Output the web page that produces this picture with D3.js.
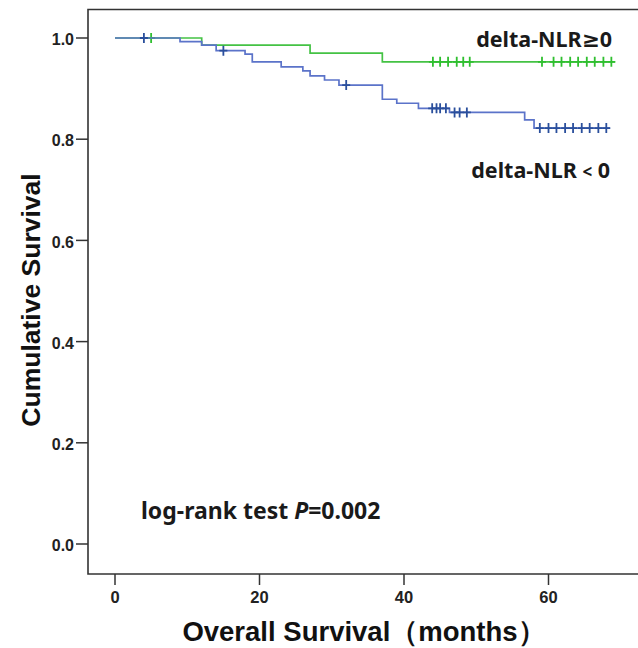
<!DOCTYPE html>
<html>
<head>
<meta charset="utf-8">
<script src="https://cdn.jsdelivr.net/npm/d3@7"></script>
<style>
  body { margin: 0; background: #fff; }
</style>
</head>
<body>
<svg id="chart" width="638" height="648"></svg>
<script>
// survival steps (months, cumulative survival)
var posTimes = [0, 12, 27, 37, 69.2];
var posSurv = [1, 0.986, 0.970, 0.953, 0.953];
var posCensor = [5, 44, 45, 46.1, 47.3, 48.2, 49.1, 59.1, 60.7, 61.8, 63, 64.1, 65.3, 66.4, 67.6, 68.7];

var negTimes = [0, 9, 12, 14, 18, 19, 23, 26, 27, 29, 31, 37, 39, 42, 46.3, 56.7, 58, 68.5];
var negSurv = [1, 0.993, 0.986, 0.975, 0.968, 0.953, 0.943, 0.935, 0.925, 0.917, 0.907, 0.879, 0.871, 0.861, 0.853, 0.838, 0.822, 0.822];
var negCensor = [4, 15, 32, 43.9, 44.5, 45, 45.8, 47, 47.7, 48.7, 58.8, 60, 61.1, 62.3, 63.4, 64.6, 65.7, 66.9, 68];

var xTicks = [0, 20, 40, 60];
var yTicks = [0, 0.2, 0.4, 0.6, 0.8, 1.0];

var svg = d3.select("#chart");
var axisFont = "'Liberation Sans', Arial, sans-serif";
var labelFont = "'Noto Sans', 'DejaVu Sans', sans-serif";

var x = d3.scaleLinear().domain([0, 60]).range([115, 548.5]);
var y = d3.scaleLinear().domain([0, 1]).range([544, 38]);

var frameL = 88, frameT = 9.5, frameB = 574, frameR = 640;

// frame
svg.append("path")
    .attr("d", "M" + frameR + "," + frameT + "H" + frameL + "V" + frameB + "H" + frameR)
    .attr("fill", "none")
    .attr("stroke", "#333")
    .attr("stroke-width", 1.6);

// y axis ticks
var yax = svg.append("g").attr("font-family", axisFont);
yax.selectAll("line").data(yTicks).enter().append("line")
    .attr("x1", frameL - 12).attr("x2", frameL)
    .attr("y1", function (d) { return y(d); })
    .attr("y2", function (d) { return y(d); })
    .attr("stroke", "#333").attr("stroke-width", 1.5);
yax.selectAll("text").data(yTicks).enter().append("text")
    .attr("x", frameL - 14)
    .attr("y", function (d) { return y(d) + 1.5; })
    .attr("dy", "0.35em")
    .attr("text-anchor", "end")
    .attr("font-size", 16)
    .attr("font-weight", "bold")
    .attr("fill", "#222")
    .text(function (d) { return d3.format(".1f")(d); });

// x axis ticks
var xax = svg.append("g").attr("font-family", axisFont);
xax.selectAll("line").data(xTicks).enter().append("line")
    .attr("x1", function (d) { return x(d); })
    .attr("x2", function (d) { return x(d); })
    .attr("y1", frameB).attr("y2", frameB + 11)
    .attr("stroke", "#333").attr("stroke-width", 1.5);
xax.selectAll("text").data(xTicks).enter().append("text")
    .attr("x", function (d) { return x(d); })
    .attr("y", 603)
    .attr("text-anchor", "middle")
    .attr("font-size", 16.5)
    .attr("font-weight", "bold")
    .attr("fill", "#222")
    .text(function (d) { return d; });

// axis titles
svg.append("text")
    .attr("transform", "translate(40,300) rotate(-90)")
    .attr("text-anchor", "middle")
    .attr("font-family", axisFont)
    .attr("font-size", 26.5)
    .attr("font-weight", "bold")
    .attr("fill", "#111")
    .text("Cumulative Survival");

svg.append("text")
    .attr("x", 364)
    .attr("y", 641)
    .attr("text-anchor", "middle")
    .attr("font-family", axisFont)
    .attr("font-size", 27.5)
    .attr("font-weight", "bold")
    .attr("fill", "#111")
    .text("Overall Survival（months）");

// curves
var line = d3.line()
    .x(function (d) { return x(d[0]); })
    .y(function (d) { return y(d[1]); })
    .curve(d3.curveStepAfter);

function drawGroup(times, surv, censor, lineColor, markColor) {
    var pts = d3.zip(times, surv);
    svg.append("path")
        .datum(pts)
        .attr("d", line)
        .attr("fill", "none")
        .attr("stroke", lineColor)
        .attr("stroke-width", 1.7);

    // survival at a censor time = last step at or before it
    var bis = d3.bisector(function (d) { return d; }).right;
    var marks = svg.append("g");
    censor.forEach(function (t) {
        var s = surv[Math.max(0, bis(times, t) - 1)];
        var cx = x(t), cy = y(s);
        marks.append("path")
            .attr("d", "M" + (cx - 4) + "," + cy + "H" + (cx + 4) + "M" + cx + "," + (cy - 5) + "V" + (cy + 5))
            .attr("stroke", markColor)
            .attr("stroke-width", 1.8)
            .attr("fill", "none");
    });
}

drawGroup(posTimes, posSurv, posCensor, "#44c244", "#2fbf2f");
drawGroup(negTimes, negSurv, negCensor, "#5b73c9", "#2a4f9c");

// labels
svg.append("text")
    .attr("x", 612).attr("y", 47)
    .attr("text-anchor", "end")
    .attr("font-family", labelFont)
    .attr("font-size", 21.5)
    .attr("font-weight", "bold")
    .attr("fill", "#1a1a1a")
    .text("delta-NLR≥0");

var neg = svg.append("text")
    .attr("x", 610).attr("y", 178)
    .attr("text-anchor", "end")
    .attr("font-family", labelFont)
    .attr("font-size", 21.5)
    .attr("font-weight", "bold")
    .attr("fill", "#1a1a1a");
neg.append("tspan").text("delta-NLR ");
neg.append("tspan").attr("font-size", 17).text("<");
neg.append("tspan").text(" 0");

var lr = svg.append("text")
    .attr("x", 141).attr("y", 519)
    .attr("font-family", labelFont)
    .attr("font-size", 23)
    .attr("font-weight", "bold")
    .attr("fill", "#1a1a1a");
lr.append("tspan").text("log-rank test ");
lr.append("tspan").attr("font-style", "italic").text("P");
lr.append("tspan").text("=0.002");
</script>
</body>
</html>
